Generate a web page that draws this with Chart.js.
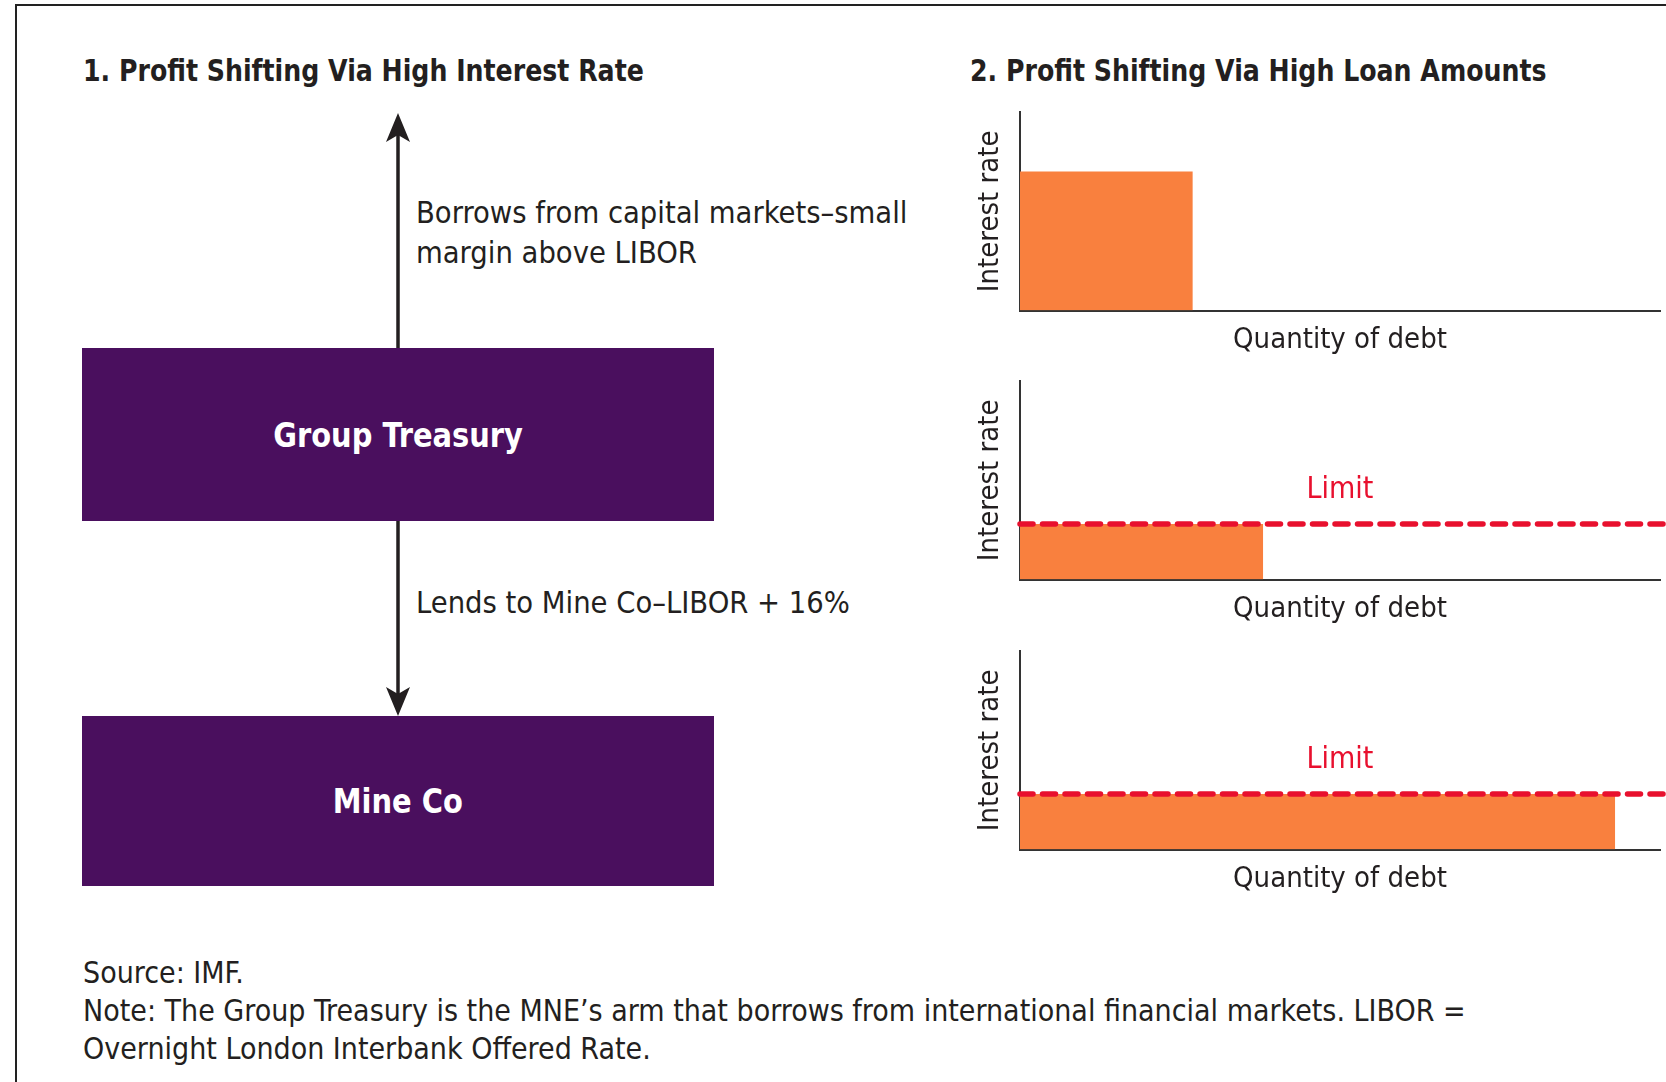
<!DOCTYPE html>
<html>
<head>
<meta charset="utf-8">
<script src="https://cdn.jsdelivr.net/npm/chart.js@4.4.1/dist/chart.umd.min.js"></script>
<style>
  body { margin:0; width:1666px; height:1082px; background:#fff; overflow:hidden; position:relative;
         font-family:"Liberation Sans Narrow","DejaVu Sans Condensed","Liberation Sans",sans-serif; color:#231f20; }
  #frame { position:absolute; left:15px; top:4px; width:1700px; height:1200px; border-left:2px solid #222; border-top:2px solid #222; }
  .ttl { position:absolute; font-weight:bold; font-size:31px; line-height:36px; white-space:nowrap;
         transform:scaleX(0.905); transform-origin:left center; }
  .txt { position:absolute; font-size:31px; line-height:40px; white-space:nowrap;
         transform:scaleX(0.985); transform-origin:left center; }
  .box { position:absolute; left:82px; width:632px; background:#4a0f5e; color:#fff; font-weight:bold;
         font-size:34px; display:flex; align-items:center; justify-content:center; }
  .box span { display:inline-block; transform:scaleX(0.945); }
  .panel { position:absolute; left:971px; }
  .foot { position:absolute; left:83px; top:954px; font-size:30px; line-height:38px; white-space:nowrap; }
  svg { position:absolute; left:0; top:0; }
</style>
</head>
<body>
<div id="frame"></div>

<div class="ttl" style="left:83px;top:52px">1. Profit Shifting Via High Interest Rate</div>
<div class="ttl" style="left:970px;top:52px">2. Profit Shifting Via High Loan Amounts</div>

<div class="txt" style="left:416px;top:192px">Borrows from capital markets–small<br>margin above LIBOR</div>
<div class="txt" style="left:416px;top:582px">Lends to Mine Co–LIBOR + 16%</div>

<div class="box" style="top:348px;height:173px"><span>Group Treasury</span></div>
<div class="box" style="top:716px;height:170px"><span>Mine Co</span></div>

<svg width="1666" height="1082">
  <line x1="398" y1="348" x2="398" y2="128" stroke="#231f20" stroke-width="3.5"/>
  <polygon points="398,113 386,142 398,135 410,142" fill="#231f20"/>
  <line x1="398" y1="521" x2="398" y2="702" stroke="#231f20" stroke-width="3.5"/>
  <polygon points="398,716 386,687 398,694 410,687" fill="#231f20"/>
</svg>

<canvas id="p0" class="panel" width="695" height="260" style="top:100px"></canvas>
<canvas id="p1" class="panel" width="695" height="260" style="top:369px"></canvas>
<canvas id="p2" class="panel" width="695" height="260" style="top:639px"></canvas>

<div class="foot">Source: IMF.<br>Note: The Group Treasury is the MNE’s arm that borrows from international financial markets. LIBOR =<br>Overnight London Interbank Offered Rate.</div>

<script>
// data (axes 0..100)
var debtQty   = [27, 38, 93];
var rateLevel = [70, 28, 28];
var rateLimit = [null, 28, 28];
var axisMax = 100;

var xTitle = 'Quantity of debt';
var yTitle = 'Interest rate';
var limitLabel = 'Limit';

var orange = '#f9803e';
var red = '#e8102e';
var ink = '#231f20';
var fontFam = '"Liberation Sans Narrow","DejaVu Sans Condensed","Liberation Sans",sans-serif';

function MakePanel(i){
  var datasets = [];
  if (rateLimit[i] != null) {
    // dashed limit runs a little past the axis end, like the original
    datasets.push({
      label: limitLabel,
      data: [{x:0, y:rateLimit[i]}, {x:axisMax + 1, y:rateLimit[i]}],
      borderColor: red, borderWidth: 5.5, borderDash: [13, 9.5], borderCapStyle: 'round',
      pointRadius: 0, fill: false, clip: false
    });
  }
  datasets.push({
    label: 'Debt',
    data: [{x:0, y:rateLevel[i]}, {x:debtQty[i], y:rateLevel[i]}],
    borderColor: 'rgba(0,0,0,0)', borderWidth: 0,
    backgroundColor: orange, pointRadius: 0, fill: 'origin'
  });

  // "Limit" caption above the dashed line
  var limitText = {
    id: 'limitText',
    afterDatasetsDraw: function(chart){
      if (rateLimit[i] == null) return;
      var ctx = chart.ctx;
      var a = chart.chartArea;
      var y = chart.scales.y.getPixelForValue(rateLimit[i]);
      ctx.save();
      ctx.font = '30px ' + fontFam;
      ctx.fillStyle = red;
      ctx.textAlign = 'center';
      ctx.textBaseline = 'middle';
      ctx.fillText(limitLabel, (a.left + a.right) / 2, y - 34);
      ctx.restore();
    }
  };

  return new Chart(document.getElementById('p' + i), {
    type: 'line',
    data: { datasets: datasets },
    plugins: [limitText],
    options: {
      responsive: false,
      animation: false,
      layout: { padding: { top: 12, right: 6, bottom: 2, left: 0 } },
      plugins: { legend: { display: false }, tooltip: { enabled: false } },
      scales: {
        x: {
          type: 'linear', min: 0, max: axisMax, z: 1,
          grid: { display: false, drawTicks: false },
          border: { display: true, color: '#333', width: 2 },
          ticks: { display: false },
          title: { display: true, text: xTitle, color: ink,
                   font: { family: fontFam, size: 29 }, padding: { top: 12.6, bottom: 0 } }
        },
        y: {
          type: 'linear', min: 0, max: axisMax, z: 1,
          grid: { display: false, drawTicks: false },
          border: { display: true, color: '#333', width: 2 },
          ticks: { display: false },
          title: { display: true, text: yTitle, color: ink,
                   font: { family: fontFam, size: 29 }, padding: { top: 1.6, bottom: 12.6 } }
        }
      }
    }
  });
}

for (var k = 0; k < debtQty.length; k++) MakePanel(k);
</script>
</body>
</html>
